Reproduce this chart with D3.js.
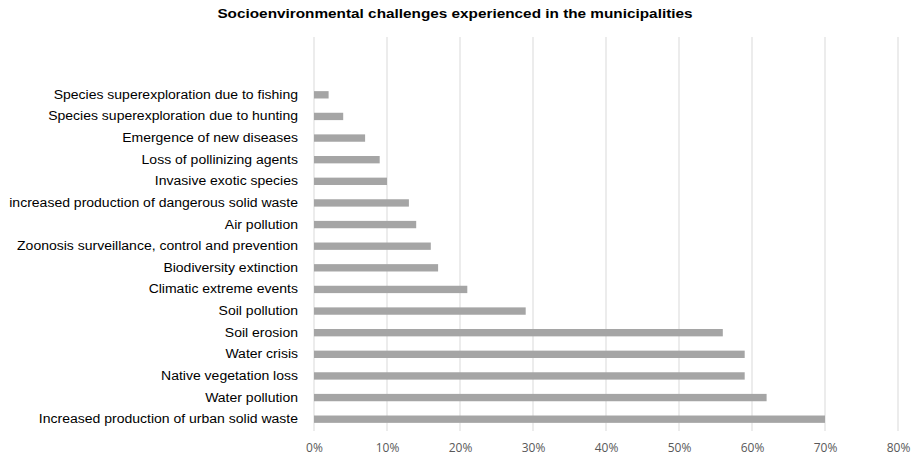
<!DOCTYPE html>
<html><head><meta charset="utf-8">
<script src="https://cdn.jsdelivr.net/npm/d3@7"></script>
<style>body{margin:0;background:#fff}svg{display:block}</style>
</head><body>
<svg id="c" width="912" height="459"></svg>
<script>
const categories = [
  "Species superexploration due to fishing",
  "Species superexploration due to hunting",
  "Emergence of new diseases",
  "Loss of pollinizing agents",
  "Invasive exotic species",
  "increased production of dangerous solid waste",
  "Air pollution",
  "Zoonosis surveillance, control and prevention",
  "Biodiversity extinction",
  "Climatic extreme events",
  "Soil pollution",
  "Soil erosion",
  "Water crisis",
  "Native vegetation loss",
  "Water pollution",
  "Increased production of urban solid waste"
];
const values = [2, 4, 7, 9, 10, 13, 14, 16, 17, 21, 29, 56, 59, 59, 62, 70];
const tickValues = [0, 10, 20, 30, 40, 50, 60, 70, 80];
const title = "Socioenvironmental challenges experienced in the municipalities";

const svg = d3.select("#c");
const x = d3.scaleLinear().domain([0, 80]).range([314, 898]);
const y = d3.scaleBand().domain(categories).range([84, 430]).paddingInner(0.66).paddingOuter(0.33);
const hStretch = 1.12;

// gridlines
svg.append("g").selectAll("line").data(tickValues).join("line")
  .attr("x1", d => x(d)).attr("x2", d => x(d))
  .attr("y1", 37).attr("y2", 431)
  .attr("stroke", "#d9d9d9").attr("stroke-width", 1);

// bars
svg.append("g").selectAll("rect").data(values).join("rect")
  .attr("x", x(0)).attr("y", (d, i) => y(categories[i]))
  .attr("width", d => x(d) - x(0)).attr("height", y.bandwidth())
  .attr("fill", "#a5a5a5");

// y axis labels
const yAxis = d3.axisLeft(y).tickSize(0).tickPadding(16);
const gy = svg.append("g").attr("transform", `translate(${x(0)},0)`).call(yAxis);
gy.select(".domain").remove();
gy.selectAll("text")
  .attr("font-family", "Liberation Sans, Arial, sans-serif").attr("font-size", 12.5).attr("fill", "#000")
  .each(function () {
    const w = this.getComputedTextLength();
    d3.select(this).attr("textLength", w * hStretch).attr("lengthAdjust", "spacingAndGlyphs");
  });

// x axis
const xAxis = d3.axisBottom(x).tickValues(tickValues).tickFormat(d => d + "%").tickSize(0).tickPadding(9);
const gx = svg.append("g").attr("transform", `translate(0,434)`).call(xAxis);
gx.select(".domain").remove();
gx.selectAll("text").attr("font-family", "Open Sans, sans-serif").attr("font-size", 12).attr("fill", "#595959");

const t = svg.append("text").attr("x", 455).attr("y", 18).attr("text-anchor", "middle")
  .attr("font-family", "Liberation Sans, Arial, sans-serif").attr("font-weight", "bold").attr("font-size", 13.5)
  .attr("fill", "#000")
  .text(title);
t.attr("textLength", t.node().getComputedTextLength() * 1.135).attr("lengthAdjust", "spacingAndGlyphs");
</script>
</body></html>
